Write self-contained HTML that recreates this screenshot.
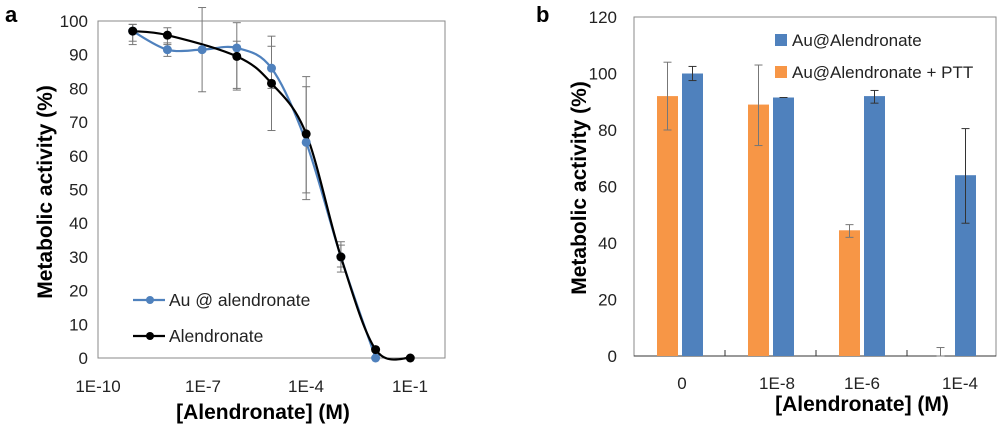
<!DOCTYPE html>
<html><head><meta charset="utf-8"><style>
body{margin:0;background:#fff;width:1002px;height:425px;overflow:hidden}
svg{font-family:"Liberation Sans",sans-serif}
</style></head><body>
<svg id="s" width="1002" height="425" xmlns="http://www.w3.org/2000/svg">
<!-- Panel a -->
<text x="5" y="22" font-size="22" font-weight="bold">a</text>
<rect x="98" y="21" width="347" height="337" fill="none" stroke="#888" stroke-width="1"/>
<g font-size="17" fill="#222" text-anchor="end" id="ayt"></g>
<g font-size="17" fill="#222" text-anchor="middle">
<text x="98" y="392">1E-10</text><text x="203" y="392">1E-7</text><text x="306" y="392">1E-4</text><text x="410" y="392">1E-1</text>
</g>
<text x="263" y="419" font-size="21" font-weight="bold" text-anchor="middle">[Alendronate] (M)</text>
<text transform="translate(52,192) rotate(-90)" font-size="21" font-weight="bold" text-anchor="middle">Metabolic activity (%)</text>
<g id="aerr" stroke="#777" stroke-width="1"></g>
<path id="pb" fill="none" stroke="#4f81bd" stroke-width="2.2"/>
<path id="pk" fill="none" stroke="#000" stroke-width="2.2"/>
<g id="mk"></g>
<line x1="133" y1="300" x2="165" y2="300" stroke="#4f81bd" stroke-width="2.2"/><circle cx="150" cy="300" r="4" fill="#4f81bd"/>
<text x="169" y="306" font-size="17.5" fill="#222">Au @ alendronate</text>
<line x1="133" y1="336" x2="165" y2="336" stroke="#000" stroke-width="2.2"/><circle cx="150" cy="336" r="4" fill="#000"/>
<text x="169" y="342" font-size="17.5" fill="#222">Alendronate</text>

<!-- Panel b -->
<text x="536" y="22" font-size="22" font-weight="bold">b</text>
<rect x="634" y="17" width="362" height="339" fill="none" stroke="#888" stroke-width="1"/>
<line x1="634" y1="356" x2="996" y2="356" stroke="#333" stroke-width="1"/>
<g stroke="#333"><line x1="725" y1="350" x2="725" y2="356"/><line x1="816" y1="350" x2="816" y2="356"/><line x1="907" y1="350" x2="907" y2="356"/></g>
<g font-size="17" fill="#222" text-anchor="end" id="byt"></g>
<g id="bars"></g>
<g font-size="17" fill="#222" text-anchor="middle">
<text x="682" y="389">0</text><text x="777" y="389">1E-8</text><text x="862" y="389">1E-6</text><text x="960" y="389">1E-4</text>
</g>
<text x="862" y="411" font-size="21" font-weight="bold" text-anchor="middle">[Alendronate] (M)</text>
<text transform="translate(586,188) rotate(-90)" font-size="21" font-weight="bold" text-anchor="middle">Metabolic activity (%)</text>
<rect x="775" y="34" width="12" height="12" fill="#4f81bd"/>
<text x="792" y="46" font-size="17" fill="#222">Au@Alendronate</text>
<rect x="775" y="66" width="12" height="12" fill="#f79646"/>
<text x="792" y="78" font-size="17" fill="#222">Au@Alendronate + PTT</text>
</svg>
<script>
var NS="http://www.w3.org/2000/svg";
function el(p,t,a,txt){var e=document.createElementNS(NS,t);for(var k in a)e.setAttribute(k,a[k]);if(txt!=null)e.textContent=txt;document.getElementById(p).appendChild(e);return e;}
function ay(v){return 358-3.37*v}
function ax(e){return 98+34.7*(e+10)}
for(var v=0;v<=100;v+=10)el("ayt","text",{x:88,y:ay(v)+6},v);
function spline(pts){var d="M"+pts[0][0]+","+pts[0][1];for(var i=0;i<pts.length-1;i++){var p0=pts[i-1]||pts[i],p1=pts[i],p2=pts[i+1],p3=pts[i+2]||p2;var t=1/6;
d+=" C"+(p1[0]+(p2[0]-p0[0])*t)+","+(p1[1]+(p2[1]-p0[1])*t)+" "+(p2[0]-(p3[0]-p1[0])*t)+","+(p2[1]-(p3[1]-p1[1])*t)+" "+p2[0]+","+p2[1];}return d;}
var B=[[-9,97,93,99],[-8,91.5,89.5,93.5],[-7,91.5,79,104],[-6,92,79.5,99.5],[-5,86,67.5,95.5],[-4,64,47,83.5],[-3,30,25.5,34.5],[-2,0]];
var K=[[-9,97,94,99],[-8,95.8,93,98],[-6,89.5,80,94],[-5,81.5,80,92.5],[-4,66.5,49,80.5],[-3,30,27,33.5],[-2,2.5],[-1,0]];
[B,K].forEach(function(S){S.forEach(function(p){if(p.length>2){var x=ax(p[0]);el("aerr","line",{x1:x,y1:ay(p[2]),x2:x,y2:ay(p[3])});el("aerr","line",{x1:x-4,y1:ay(p[2]),x2:x+4,y2:ay(p[2])});el("aerr","line",{x1:x-4,y1:ay(p[3]),x2:x+4,y2:ay(p[3])});}});});
document.getElementById("pb").setAttribute("d",spline(B.map(function(p){return[ax(p[0]),ay(p[1])]})));
document.getElementById("pk").setAttribute("d",spline(K.map(function(p){return[ax(p[0]),ay(p[1])]})));
B.forEach(function(p){el("mk","circle",{cx:ax(p[0]),cy:ay(p[1]),r:4.5,fill:"#4f81bd"})});
K.forEach(function(p){el("mk","circle",{cx:ax(p[0]),cy:ay(p[1]),r:4.5,fill:"#000"})});
function by(v){return 356-2.825*v}
for(var v=0;v<=120;v+=20)el("byt","text",{x:617,y:by(v)+6},v);
var O=[[92,80,104],[89,74.5,103],[44.5,42,46.5],[0,0,3]],Bl=[[100,97.5,102.5],[91.5,91.5,91.5],[92,89.5,94],[64,47,80.5]];
for(var i=0;i<4;i++){var c=680+91*i;
[[O[i],c-23,"#f79646","#777"],[Bl[i],c+2,"#4f81bd","#333"]].forEach(function(q){var d=q[0],x=q[1];if(d[0]>0)el("bars","rect",{x:x,y:by(d[0]),width:21,height:356-by(d[0]),fill:q[2]});
var m=x+10.5;el("bars","line",{x1:m,y1:by(d[1]),x2:m,y2:by(d[2]),stroke:q[3]});el("bars","line",{x1:m-4,y1:by(d[1]),x2:m+4,y2:by(d[1]),stroke:q[3]});el("bars","line",{x1:m-4,y1:by(d[2]),x2:m+4,y2:by(d[2]),stroke:q[3]});});}
</script>
</body></html>
